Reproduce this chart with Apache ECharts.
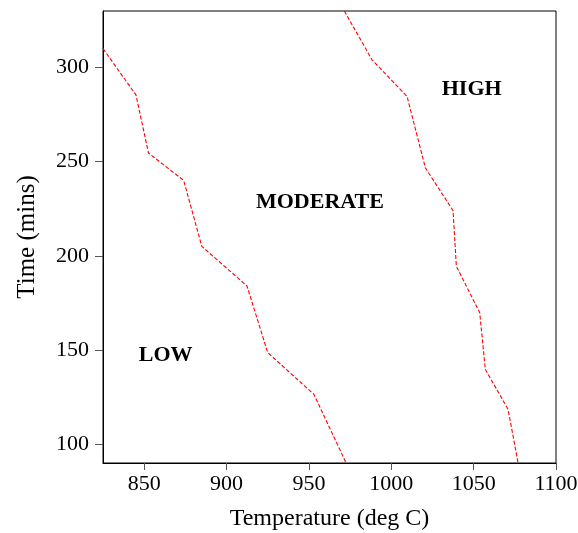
<!DOCTYPE html>
<html>
<head>
<meta charset="utf-8">
<script src="https://cdn.jsdelivr.net/npm/echarts@6/dist/echarts.min.js"></script>
<style>
  html, body { margin: 0; padding: 0; background: #fff; }
  #chart { width: 578px; height: 533px; }
</style>
</head>
<body>
<div id="chart"></div>
<script>
// Boundary between LOW and MODERATE regions: [temperature, time]
const lowModerateBoundary = [
  [825, 310], [845, 285.5], [852.6, 254.6], [874, 240], [885, 205],
  [912.4, 184], [925, 148.6], [953, 126.5], [972.6, 90]
];
// Boundary between MODERATE and HIGH regions: [temperature, time]
const moderateHighBoundary = [
  [971.5, 330], [988.3, 304.1], [1009.6, 284.6], [1020.7, 246.7], [1037.5, 224],
  [1039.5, 194.5], [1053.7, 169.8], [1057.1, 139.7], [1070.9, 118.5], [1077, 90]
];
// Region names and where they sit in data space
const regionNames = ['LOW', 'MODERATE', 'HIGH'];
const regionPositions = [[863, 147], [956.7, 228.3], [1048.8, 288.4]];
// Tick labels
const xTicks = [850, 900, 950, 1000, 1050, 1100];
const yTicks = [100, 150, 200, 250, 300];

const serif = '"Liberation Serif", "DejaVu Serif", serif';
const chart = echarts.init(document.getElementById('chart'), null, { renderer: 'canvas' });

const boundaryStyle = { color: '#ff0000', width: 1.1, type: [4, 2] };

chart.setOption({
  animation: false,
  backgroundColor: '#ffffff',
  grid: {
    left: 103, right: 22, top: 11, bottom: 70,
    containLabel: false,
    outerBoundsMode: 'none',
    show: true, borderColor: '#000', borderWidth: 1, backgroundColor: 'transparent'
  },
  xAxis: {
    type: 'value',
    min: 825, max: 1100,
    name: 'Temperature (deg C)',
    nameLocation: 'middle',
    nameGap: 44,
    nameTextStyle: { fontFamily: serif, fontSize: 24, color: '#000' },
    splitLine: { show: false },
    axisLine: { show: true, lineStyle: { color: '#000', width: 1 } },
    axisTick: { show: true, customValues: xTicks, length: 7, lineStyle: { color: '#555' } },
    axisLabel: {
      customValues: xTicks, margin: 10, fontFamily: serif, fontSize: 22, color: '#000',
      formatter: v => String(v), hideOverlap: false
    }
  },
  yAxis: {
    type: 'value',
    min: 90, max: 330,
    name: 'Time (mins)',
    nameLocation: 'middle',
    nameGap: 63,
    nameRotate: 90,
    nameTextStyle: { fontFamily: serif, fontSize: 25, color: '#000' },
    splitLine: { show: false },
    axisLine: { show: true, lineStyle: { color: '#000', width: 1 } },
    axisTick: { show: true, customValues: yTicks, length: 8, lineStyle: { color: '#555' } },
    axisLabel: {
      customValues: yTicks, margin: 14, fontFamily: serif, fontSize: 22, color: '#000',
      formatter: v => String(v)
    }
  },
  series: [
    {
      type: 'line', data: lowModerateBoundary, symbol: 'none',
      lineStyle: boundaryStyle, clip: true, silent: true
    },
    {
      type: 'line', data: moderateHighBoundary, symbol: 'none',
      lineStyle: boundaryStyle, clip: true, silent: true
    },
    {
      type: 'scatter', symbolSize: 0, silent: true,
      itemStyle: { opacity: 1 },
      data: regionNames.map((n, i) => ({ name: n, value: regionPositions[i] })),
      label: {
        show: true, position: 'inside', formatter: p => p.name,
        fontFamily: serif, fontSize: 22, fontWeight: 'bold', color: '#000', opacity: 1
      }
    }
  ]
});
</script>
</body>
</html>
